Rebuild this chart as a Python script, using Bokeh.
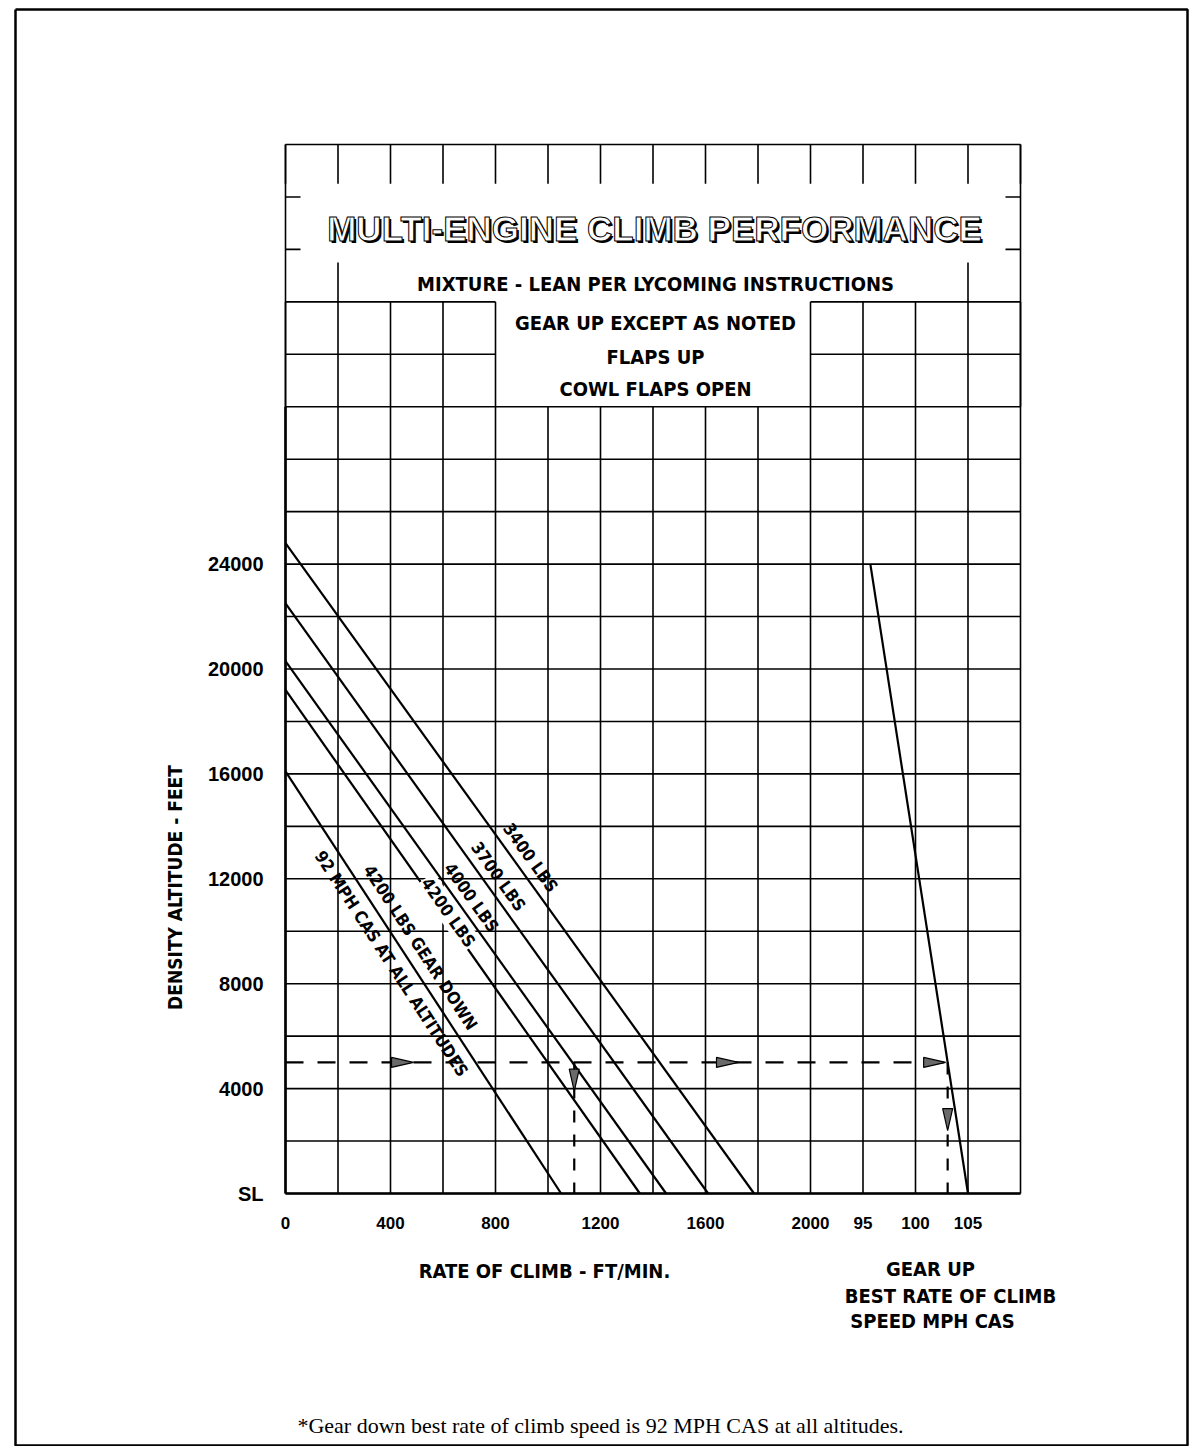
import math
from bokeh.plotting import figure
from bokeh.models import Range1d
from bokeh.core.properties import value
from bokeh.embed import file_html
from bokeh.resources import INLINE

# ---------------- data ----------------
weight_labels = ["3400 LBS", "3700 LBS", "4000 LBS", "4200 LBS", "4200 LBS GEAR DOWN"]
alt_at_zero_roc = [24800, 22500, 20300, 19200, 16100]   # ft, where rate of climb = 0
roc_at_sea_level = [1785, 1610, 1450, 1350, 1050]        # ft/min at SL

speed_line_alt = [24000, 0]          # ft
speed_line_mph = [95.7, 105.0]       # MPH CAS

x_tick_vals = [0, 400, 800, 1200, 1600, 2000]
x_tick_labels = ["0", "400", "800", "1200", "1600", "2000"]
speed_tick_vals = [95, 100, 105]
speed_tick_labels = ["95", "100", "105"]
y_tick_vals = [0, 4000, 8000, 12000, 16000, 20000, 24000]
y_tick_labels = ["SL", "4000", "8000", "12000", "16000", "20000", "24000"]

example_alt = 5000
example_roc = 1100

# ---------------- layout ----------------
W, H = 1189, 1446
GX0, GX1 = 285, 1020          # px of grid left / right
GY_TOP, GY_BOT = 144, 1193    # px (from top) of grid top / bottom
ROC_MAX, ALT_MAX = 2800, 40000
UX = ROC_MAX / (GX1 - GX0)
UY = ALT_MAX / (GY_BOT - GY_TOP)

def X(px):
    return (px - GX0) * UX

def Y(py):
    return (GY_BOT - py) * UY

# speed scale: 95 mph sits on the 2200 grid line, 5 mph per 200 ft/min column
def speed_of(x):
    return 95 + (x - 2200) / 40.0

x_lo, x_hi = -GX0 * UX, ROC_MAX + (W - GX1) * UX
y_lo, y_hi = -(H - GY_BOT) * UY, ALT_MAX + GY_TOP * UY

p = figure(width=W, height=H, x_range=Range1d(x_lo, x_hi), y_range=Range1d(y_lo, y_hi),
           output_backend="svg", toolbar_location=None,
           x_axis_location=None, y_axis_location=None, min_border=0)
p.extra_x_ranges = {"speed": Range1d(speed_of(x_lo), speed_of(x_hi))}
p.outline_line_color = None
p.title.visible = False
p.xgrid.visible = False
p.ygrid.visible = False
p.background_fill_color = "white"
p.border_fill_color = "white"

# ---------------- page border ----------------
bx0, bx1 = X(15), X(1187)
by0, by1 = Y(1445), Y(9)
p.line([bx0, bx0, bx1, bx1, bx0], [by1, by0, by0, by1, by1], line_color="black", line_width=2.5)

# ---------------- grid ----------------
xg = list(range(0, ROC_MAX + 1, 200))
yg = list(range(0, ALT_MAX + 1, 2000))
stub = 15 * UX
s = []
for x in xg:
    s.append((x, 0, x, 30000))
for y in yg:
    if y <= 30000:
        s.append((0, y, ROC_MAX, y))
side_cols = [0, 200, 400, 600, 800, 2000, 2200, 2400, 2600, 2800]
for x in side_cols:
    s.append((x, 30000, x, 34000))
for y in (32000, 34000):
    s.append((0, y, 800, y))
    s.append((2000, y, ROC_MAX, y))
for x in (200, 2600):
    s.append((x, 34000, x, 35500))
s.append((0, 30000, 0, ALT_MAX))
s.append((ROC_MAX, 30000, ROC_MAX, ALT_MAX))
for y in (36000, 38000):
    s.append((0, y, stub, y))
    s.append((ROC_MAX - stub, y, ROC_MAX, y))
for x in xg:
    s.append((x, 38500, x, ALT_MAX))
s.append((0, ALT_MAX, ROC_MAX, ALT_MAX))
p.segment(x0=[a[0] for a in s], y0=[a[1] for a in s], x1=[a[2] for a in s], y1=[a[3] for a in s],
          line_color="black", line_width=1.6)
# heavier axis lines
p.segment(x0=[0, 0], y0=[0, 0], x1=[ROC_MAX, 0], y1=[0, 30000], line_color="black", line_width=2.6)

# ---------------- performance lines ----------------
p.multi_line(xs=[[0, r] for r in roc_at_sea_level], ys=[[a, 0] for a in alt_at_zero_roc],
             line_color="black", line_width=2.2)
p.line(x=speed_line_mph, y=speed_line_alt, x_range_name="speed", line_color="black", line_width=2.2)

# ---------------- example (dashed) ----------------
ex_speed = speed_line_mph[1] + (speed_line_mph[0] - speed_line_mph[1]) * example_alt / speed_line_alt[0]
p.line(x=[speed_of(0), ex_speed], y=[example_alt, example_alt], x_range_name="speed",
       line_color="black", line_width=2.2, line_dash="18 14")
p.line(x=[example_roc, example_roc], y=[example_alt, 0], line_color="black", line_width=2.2,
       line_dash="12 12")
p.line(x=[ex_speed, ex_speed], y=[example_alt, 0], x_range_name="speed", line_color="black",
       line_width=2.2, line_dash="12 12")

# arrowheads (tip position in data, direction in screen)
ex_x = 2200 + (ex_speed - 95) * 40
arrows = [(X(413), example_alt, 1, 0), (X(738), example_alt, 1, 0), (ex_x - 2 * UX, example_alt, 1, 0),
          (example_roc, 3900, 0, -1), (ex_x, 2400, 0, -1)]
L, HW = 22, 5
axs, ays = [], []
for tx, ty, dx, dy in arrows:
    bxc, byc = tx - L * dx * UX, ty - L * dy * UY
    px_, py_ = -dy, dx
    axs.append([tx, bxc + HW * px_ * UX, bxc - HW * px_ * UX])
    ays.append([ty, byc + HW * py_ * UY, byc - HW * py_ * UY])
p.patches(xs=axs, ys=ays, fill_color="#6a6a6a", line_color="black", line_width=1.2)

# ---------------- line labels ----------------
COND = value("DejaVu Sans Condensed, Liberation Sans")
# label centres (px) along the lines; angle follows each line
label_cx = [530, 498, 471, 448, 420]
label_cy = [857, 876, 897, 912, 947]
la = [-math.atan2(a0 / UY, r0 / UX) for a0, r0 in zip(alt_at_zero_roc, roc_at_sea_level)]
keep = [0, 1, 2, 4]
p.text(x=[X(label_cx[i]) for i in keep], y=[Y(label_cy[i]) for i in keep],
       text=[weight_labels[i] for i in keep], angle=[la[i] for i in keep],
       text_font=COND, text_font_style="bold", text_font_size="17px",
       text_align="center", text_baseline="middle", text_color="black")
# the 4200 LBS label sits on its own line, breaking it
p.text(x=[X(label_cx[3])], y=[Y(label_cy[3])], text=[weight_labels[3]], angle=[la[3]],
       text_font=COND, text_font_style="bold", text_font_size="17px",
       text_align="center", text_baseline="middle", text_color="black",
       background_fill_color="white", padding=1)
# gear-down speed note, on the lower-left side of the gear-down line
p.text(x=[X(391)], y=[Y(963)], text=["92 MPH CAS AT ALL ALTITUDES"], angle=la[4],
       text_font=COND, text_font_style="bold", text_font_size="17px",
       text_align="center", text_baseline="middle", text_color="black")

# ---------------- tick labels ----------------
BOLD = value("Liberation Sans")
p.text(x=[X(263)] * len(y_tick_vals), y=y_tick_vals, text=y_tick_labels,
       text_font=BOLD, text_font_style="bold", text_font_size="20px",
       text_align="right", text_baseline="middle")
p.text(x=x_tick_vals, y=[Y(1222)] * len(x_tick_vals), text=x_tick_labels,
       text_font=BOLD, text_font_style="bold", text_font_size="17px",
       text_align="center", text_baseline="middle")
p.text(x=speed_tick_vals, y=[Y(1222)] * len(speed_tick_vals), text=speed_tick_labels,
       x_range_name="speed", text_font=BOLD, text_font_style="bold", text_font_size="17px",
       text_align="center", text_baseline="middle")

# ---------------- axis titles ----------------
p.text(x=[X(544)], y=[Y(1270)], text=["RATE OF CLIMB - FT/MIN."], text_font=COND,
       text_font_style="bold", text_font_size="20px", text_align="center", text_baseline="middle")
p.text(x=[X(930), X(950), X(932)], y=[Y(1268), Y(1295), Y(1320)],
       text=["GEAR UP", "BEST RATE OF CLIMB", "SPEED MPH CAS"], text_font=COND,
       text_font_style="bold", text_font_size="20px", text_align="center", text_baseline="middle")
p.text(x=[X(174)], y=[Y(887)], text=["DENSITY ALTITUDE - FEET"], angle=math.pi / 2,
       text_font=COND, text_font_style="bold", text_font_size="19px",
       text_align="center", text_baseline="middle")

# ---------------- headings ----------------
p.text(x=[X(655)] * 4, y=[Y(283), Y(322), Y(356), Y(388)],
       text=["MIXTURE - LEAN PER LYCOMING INSTRUCTIONS", "GEAR UP EXCEPT AS NOTED",
             "FLAPS UP", "COWL FLAPS OPEN"],
       text_font=COND, text_font_style="bold", text_font_size="20px",
       text_align="center", text_baseline="middle")
# outlined title with a small shadow
p.text(x=[X(654)], y=[Y(228)], text=["MULTI-ENGINE CLIMB PERFORMANCE"], x_offset=2, y_offset=2,
       text_font=BOLD, text_font_style="bold", text_font_size="35px",
       text_align="center", text_baseline="middle", text_color="black")
p.text(x=[X(654)], y=[Y(228)], text=["MULTI-ENGINE CLIMB PERFORMANCE"],
       text_font=BOLD, text_font_style="bold", text_font_size="35px",
       text_align="center", text_baseline="middle", text_color="white", text_outline_color="black")

# ---------------- footnote ----------------
p.text(x=[X(600)], y=[Y(1425)],
       text=["*Gear down best rate of climb speed is 92 MPH CAS at all altitudes."],
       text_font=value("Liberation Serif"), text_font_size="22px",
       text_align="center", text_baseline="middle", text_color="black")

open("out.html", "w").write(file_html(p, INLINE))
